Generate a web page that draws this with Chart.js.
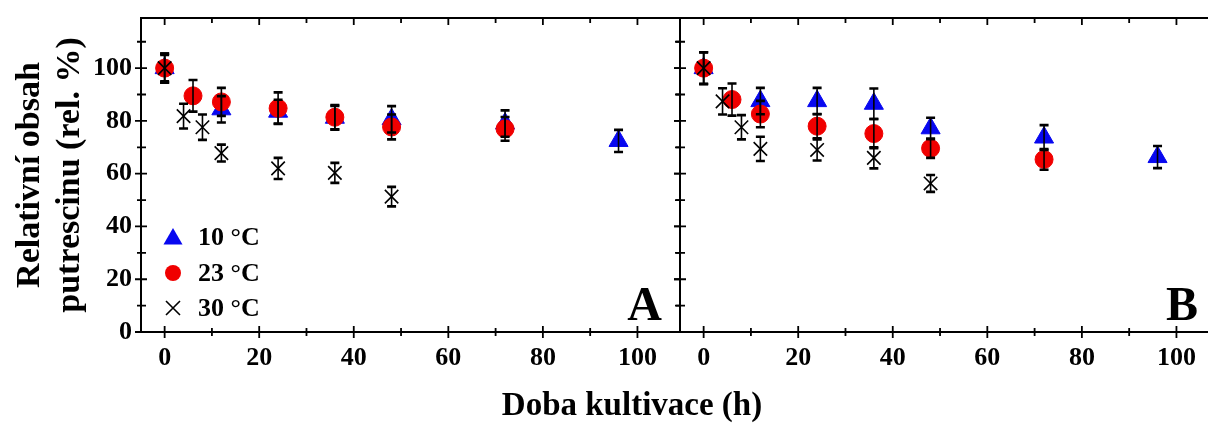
<!DOCTYPE html>
<html>
<head>
<meta charset="utf-8">
<title>Relativní obsah putrescinu</title>
<script src="https://cdn.jsdelivr.net/npm/chart.js@4.4.1/dist/chart.umd.min.js"></script>
<style>
  html, body { margin: 0; padding: 0; background: #fff; }
  #fig { position: relative; width: 1208px; height: 425px; overflow: hidden; background: #fff; }
  #cA { position: absolute; left: 0; top: 0; }
  #cB { position: absolute; left: 660px; top: 0; }
  #xTitle {
    position: absolute; left: 0; top: 384px; width: 1264px; text-align: center;
    font-family: "Liberation Serif", "Times New Roman", serif; font-weight: bold;
    font-size: 33px; line-height: 40px; color: #000;
  }
</style>
</head>
<body>
<div id="fig">
  <canvas id="cA" width="700" height="425"></canvas>
  <canvas id="cB" width="600" height="425"></canvas>
  <div id="xTitle">Doba kultivace (h)</div>
</div>
<script>
// Sampling times (h) for each temperature
const hours10 = [0, 12, 24, 36, 48, 72, 96];
const hours23 = [0, 6, 12, 24, 36, 48, 72];
const hours30 = [0, 4, 8, 12, 24, 36, 48];

// Panel A: relative putrescine content (%) and standard deviations
const a10    = [100, 84.4, 83.5, 81.2, 80.6, 79.0, 72.4];
const a10Err = [5.5, 5.0, 4.5, 4.5, 5.0, 5.0, 4.2];
const a23    = [100, 89.5, 87.2, 84.8, 81.4, 77.7, 77.0];
const a23Err = [5.5, 6.0, 5.3, 6.0, 4.6, 4.7, 4.5];
const a30    = [100, 81.8, 77.6, 67.8, 62.0, 60.3, 51.3];
const a30Err = [5.0, 4.7, 4.8, 3.2, 4.0, 3.8, 3.7];

// Panel B
const b10    = [100, 87.5, 87.5, 86.5, 77.2, 73.7, 66.3];
const b10Err = [6.0, 5.0, 5.0, 5.8, 4.0, 4.7, 4.2];
const b23    = [100, 88.1, 82.6, 78.0, 75.2, 69.6, 65.4];
const b23Err = [6.0, 6.1, 5.0, 4.6, 5.5, 3.6, 3.9];
const b30    = [100, 87.4, 77.6, 69.4, 69.0, 66.0, 56.3];
const b30Err = [6.0, 5.0, 4.6, 4.6, 4.0, 4.0, 3.2];

// Axis ticks
const xTicks = [0, 20, 40, 60, 80, 100];
const xMinor = [10, 30, 50, 70, 90];
const yTicks = [0, 20, 40, 60, 80, 100];
const yMinor = [10, 30, 50, 70, 90, 110];

const seriesLabels = ['10 °C', '23 °C', '30 °C'];
const yTitle = ['Relativní obsah', 'putrescinu (rel. %)'];

const SERIF = '"Liberation Serif", "Times New Roman", serif';
const BLUE = '#0808f0';
const RED = '#f00000';
const INK = '#000000';

function series(label, hours, vals, errs, style) {
  return Object.assign({
    label: label,
    data: hours.map((h, i) => ({ x: h, y: vals[i] })),
    errors: errs,
    showLine: false
  }, style);
}

const style10 = { pointStyle: 'triangle', pointRadius: 11, backgroundColor: BLUE, borderColor: BLUE, borderWidth: 1, order: 3 };
const style23 = { pointStyle: 'circle', pointRadius: 9, backgroundColor: RED, borderColor: RED, borderWidth: 1, order: 2 };
const style30 = { pointStyle: 'crossRot', pointRadius: 9.5, backgroundColor: INK, borderColor: INK, borderWidth: 1.6, order: 1 };

// Frame, mirrored tick marks, error bars, legend and panel letter
const panelDecor = {
  id: 'panelDecor',
  afterDatasetsDraw(chart) {
    const ctx = chart.ctx;
    const xs = chart.scales.x, ys = chart.scales.y;
    ctx.save();
    ctx.strokeStyle = INK;
    chart.data.datasets.forEach((ds) => {
      ds.data.forEach((p, i) => {
        const e = ds.errors[i];
        const px = xs.getPixelForValue(p.x);
        const top = ys.getPixelForValue(p.y + e);
        const bot = ys.getPixelForValue(p.y - e);
        ctx.lineWidth = 1.6;
        ctx.beginPath();
        ctx.moveTo(px, top); ctx.lineTo(px, bot);
        ctx.stroke();
        ctx.lineWidth = 2.6;
        ctx.beginPath();
        ctx.moveTo(px - 4.5, top); ctx.lineTo(px + 4.5, top);
        ctx.moveTo(px - 4.5, bot); ctx.lineTo(px + 4.5, bot);
        ctx.stroke();
      });
    });
    ctx.restore();
  },
  afterDraw(chart, args, opts) {
    const ctx = chart.ctx;
    const a = chart.chartArea;
    const xs = chart.scales.x, ys = chart.scales.y;
    ctx.save();
    ctx.strokeStyle = INK;
    ctx.lineWidth = 2;
    ctx.strokeRect(a.left, a.top, a.right - a.left, a.bottom - a.top);

    ctx.lineWidth = 1.8;
    ctx.beginPath();
    xTicks.forEach(v => {
      const px = xs.getPixelForValue(v);
      ctx.moveTo(px, a.bottom - 6); ctx.lineTo(px, a.bottom + 6);
      ctx.moveTo(px, a.top); ctx.lineTo(px, a.top + 7);
    });
    xMinor.forEach(v => {
      const px = xs.getPixelForValue(v);
      ctx.moveTo(px, a.bottom - 4); ctx.lineTo(px, a.bottom + 4);
      ctx.moveTo(px, a.top); ctx.lineTo(px, a.top + 5);
    });
    yTicks.forEach(v => {
      const py = ys.getPixelForValue(v);
      ctx.moveTo(a.left - 6, py); ctx.lineTo(a.left + 6, py);
      ctx.moveTo(a.right - 6, py); ctx.lineTo(a.right, py);
    });
    yMinor.forEach(v => {
      const py = ys.getPixelForValue(v);
      ctx.moveTo(a.left - 4, py); ctx.lineTo(a.left + 5, py);
      ctx.moveTo(a.right - 5, py); ctx.lineTo(a.right, py);
    });
    ctx.stroke();

    // panel letter
    ctx.fillStyle = INK;
    ctx.font = 'bold 48px ' + SERIF;
    ctx.textAlign = 'right';
    ctx.textBaseline = 'alphabetic';
    ctx.fillText(opts.letter, opts.letterX, a.bottom - 12);

    if (opts.legend) {
      const cx = a.left + 32;
      const rows = [a.bottom - 95, a.bottom - 59, a.bottom - 24];
      // triangle
      const r = 11, cy0 = rows[0] + 2;
      ctx.fillStyle = BLUE;
      ctx.beginPath();
      ctx.moveTo(cx, cy0 - r);
      ctx.lineTo(cx + r * 0.866, cy0 + r / 2);
      ctx.lineTo(cx - r * 0.866, cy0 + r / 2);
      ctx.closePath();
      ctx.fill();
      // circle
      ctx.fillStyle = RED;
      ctx.beginPath();
      ctx.arc(cx, rows[1], 8, 0, Math.PI * 2);
      ctx.fill();
      // cross
      ctx.strokeStyle = INK;
      ctx.lineWidth = 1.6;
      ctx.beginPath();
      ctx.moveTo(cx - 7, rows[2] - 7); ctx.lineTo(cx + 7, rows[2] + 7);
      ctx.moveTo(cx + 7, rows[2] - 7); ctx.lineTo(cx - 7, rows[2] + 7);
      ctx.stroke();
      ctx.fillStyle = INK;
      ctx.font = 'bold 26px ' + SERIF;
      ctx.textAlign = 'left';
      ctx.textBaseline = 'middle';
      seriesLabels.forEach((t, i) => ctx.fillText(t, cx + 25, rows[i] + 1));
    }
    ctx.restore();
  }
};

function makePanel(id, datasets, cfg) {
  const tickFont = { family: SERIF, size: 26, weight: 'bold' };
  return new Chart(document.getElementById(id), {
    type: 'scatter',
    data: { datasets: datasets },
    plugins: [panelDecor],
    options: {
      responsive: false,
      animation: false,
      devicePixelRatio: 1,
      layout: { padding: { top: 18, right: cfg.padRight, left: 0, bottom: 0 } },
      plugins: {
        legend: { display: false },
        tooltip: { enabled: false },
        panelDecor: { letter: cfg.letter, letterX: cfg.letterX, legend: cfg.legend }
      },
      scales: {
        x: {
          type: 'linear', min: -5, max: 109,
          afterFit(s) { s.height = 93; s.paddingLeft = 0; s.paddingRight = 0; },
          afterBuildTicks(s) { s.ticks = xTicks.map(v => ({ value: v })); },
          grid: { display: false, drawTicks: false },
          border: { display: false },
          ticks: { padding: 11, color: INK, font: tickFont, maxRotation: 0, autoSkip: false }
        },
        y: {
          type: 'linear', min: 0, max: 119,
          afterFit(s) { s.width = cfg.yWidth; s.paddingTop = 0; s.paddingBottom = 0; },
          afterBuildTicks(s) { s.ticks = yTicks.map(v => ({ value: v })); },
          grid: { display: false, drawTicks: false },
          border: { display: false },
          ticks: { display: cfg.yLabels, padding: 9, color: INK, font: tickFont },
          title: {
            display: cfg.yLabels,
            text: yTitle,
            color: INK,
            font: { family: SERIF, size: 34, weight: 'bold', lineHeight: 40 / 34 },
            padding: { top: 10, bottom: 0 }
          }
        }
      }
    }
  });
}

makePanel('cA', [
  series(seriesLabels[0], hours10, a10, a10Err, style10),
  series(seriesLabels[1], hours23, a23, a23Err, style23),
  series(seriesLabels[2], hours30, a30, a30Err, style30)
], { padRight: 20, yWidth: 141, yLabels: true, letter: 'A', letterX: 662, legend: true });

makePanel('cB', [
  series(seriesLabels[0], hours10, b10, b10Err, style10),
  series(seriesLabels[1], hours23, b23, b23Err, style23),
  series(seriesLabels[2], hours30, b30, b30Err, style30)
], { padRight: 41, yWidth: 20, yLabels: false, letter: 'B', letterX: 538, legend: false });
</script>
</body>
</html>
